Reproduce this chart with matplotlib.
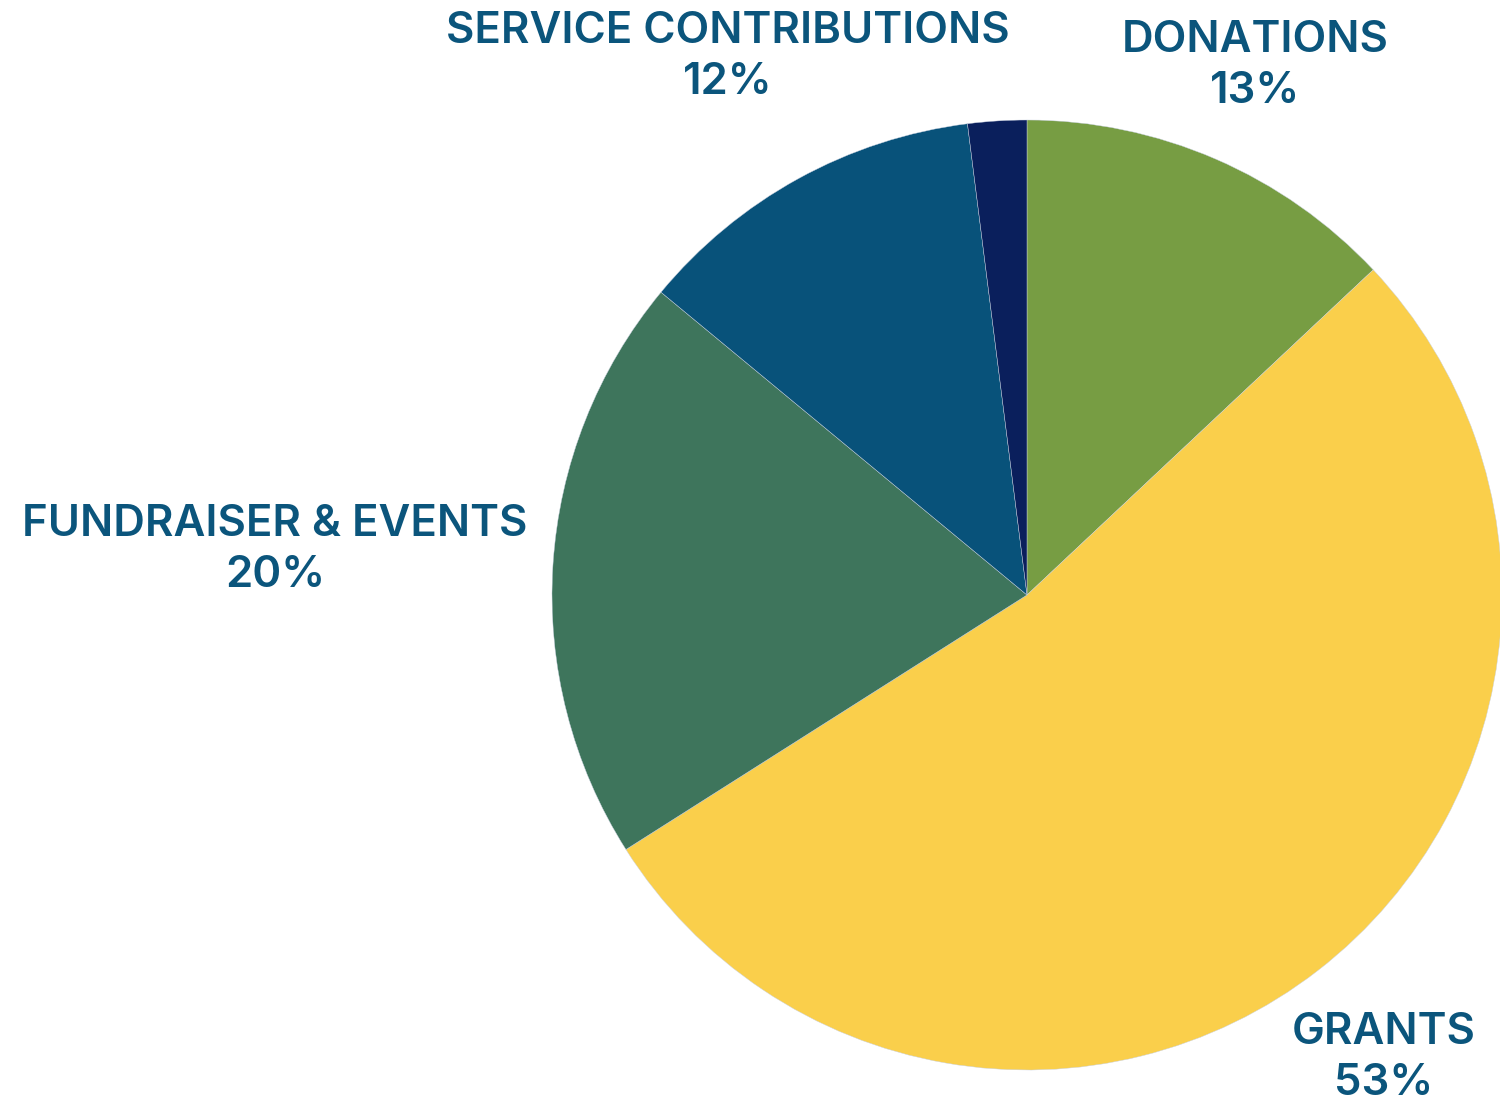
import matplotlib
matplotlib.use("Agg")
import matplotlib.pyplot as plt

categories = ["DONATIONS", "GRANTS", "FUNDRAISER & EVENTS", "SERVICE CONTRIBUTIONS", "OTHER"]
values = [13, 53, 20, 12, 2]
show_label = [True, True, True, True, False]
colors = ["#779D43", "#FACF4B", "#3E755C", "#08527A", "#0A1F5C"]
label_pos = [(0.48, 1.114), (0.751, -0.975), (-1.583, 0.095), (-0.629, 1.133), None]

W, H = 1500, 1105
cx, cy, R = 1027, 595, 475

fig = plt.figure(figsize=(15, 11.05), dpi=100)
ax = fig.add_axes([0, 0, 1, 1])
ax.pie(values, colors=colors, startangle=90, counterclock=False, radius=1,
       wedgeprops=dict(linewidth=0.3, edgecolor="#c8d0e0"))
ax.set_aspect("auto")
ax.set_xlim((0 - cx) / R, (W - cx) / R)
ax.set_ylim((cy - H) / R, cy / R)
ax.axis("off")

for cat, v, s, p in zip(categories, values, show_label, label_pos):
    if not s:
        continue
    ax.text(p[0], p[1], f"{cat}\n{v}%", ha="center", va="center",
            fontsize=31.5, fontweight="semibold", family=["Inter", "DejaVu Sans"],
            color="#0B557C", linespacing=1.3)

fig.savefig("out.png", dpi=100, facecolor="white")
